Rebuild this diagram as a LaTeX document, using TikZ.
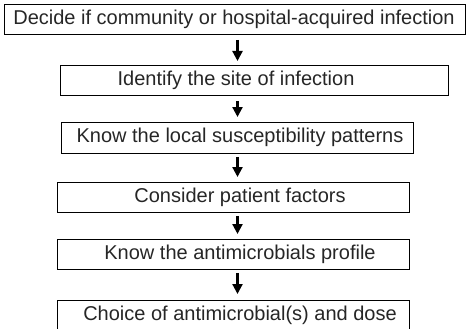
\documentclass[tikz,border=0pt]{standalone}
\usepackage{fontspec}
\setmainfont{Liberation Sans}
\usetikzlibrary{arrows.meta}
\begin{document}
\begin{tikzpicture}[x=1pt,y=-1pt,
  stepbox/.style={draw=black,line width=0.9pt,inner sep=0pt,anchor=north west},
  steptext/.style={inner sep=0pt,font=\fontsize{20}{24}\selectfont,text=black!85},
  flow/.style={line width=2.2pt,-{Triangle[width=10pt,length=10pt]}}]
  \useasboundingbox (0,0) rectangle (471,329);
  \clip (0,0) rectangle (471,329);
  % boxes (north-west corner, width, height)
  \node[stepbox,minimum width=461pt,minimum height=30pt] (b1) at (4,4) {};
  \node[stepbox,minimum width=388pt,minimum height=30pt] (b2) at (60,65) {};
  \node[stepbox,minimum width=352pt,minimum height=31pt] (b3) at (61,122) {};
  \node[stepbox,minimum width=352pt,minimum height=30pt] (b4) at (57,182) {};
  \node[stepbox,minimum width=352pt,minimum height=30pt] (b5) at (57,239) {};
  \node[stepbox,minimum width=352pt,minimum height=40pt] (b6) at (57,300) {};
  % step texts
  \node[steptext] (t1) at (234,19) {Decide if community or hospital-acquired infection};
  \node[steptext] (t2) at (236,80) {Identify the site of infection};
  \node[steptext] (t3) at (240,137) {Know the local susceptibility patterns};
  \node[steptext] (t4) at (240,197) {Consider patient factors};
  \node[steptext] (t5) at (240,254) {Know the antimicrobials profile};
  \node[steptext] (t6) at (240,315) {Choice of antimicrobial(s) and dose};
  % connectors
  \coordinate (x) at (237.5,0);
  \draw[flow] ([yshift=-5pt]b1.south -| x) -- ([yshift=4pt]b2.north -| x);
  \draw[flow] ([yshift=-5pt]b2.south -| x) -- ([yshift=5pt]b3.north -| x);
  \draw[flow] ([yshift=-3pt]b3.south -| x) -- ([yshift=5pt]b4.north -| x);
  \draw[flow] ([yshift=-3pt]b4.south -| x) -- ([yshift=5pt]b5.north -| x);
  \draw[flow] ([yshift=-3pt]b5.south -| x) -- ([yshift=6pt]b6.north -| x);
\end{tikzpicture}
\end{document}
